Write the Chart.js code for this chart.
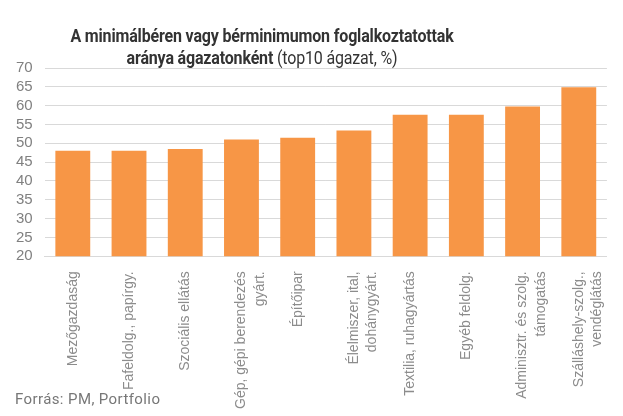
<!DOCTYPE html>
<html>
<head>
<meta charset="utf-8">
<script src="https://cdn.jsdelivr.net/npm/chart.js@4"></script>
<style>
  body { margin: 0; background: #fff; font-family: Roboto, "Noto Sans", sans-serif; }
  #wrap { position: relative; width: 623px; height: 416px; }
  #title {
    position: absolute; left: 0; top: 25px; width: 524px; text-align: center;
    color: #333; font-size: 18px; line-height: 22px; font-weight: bold;
    transform: scaleX(0.89); transform-origin: 262px 0; letter-spacing: -0.2px;
  }
  #title span { font-weight: normal; }
  #source { position: absolute; left: 15px; top: 390px; color: #777; font-size: 15px; letter-spacing: 0.4px; }
</style>
</head>
<body>
<div id="wrap">
  <canvas id="chart" width="623" height="416"></canvas>
  <div id="title">A minimálbéren vagy bérminimumon foglalkoztatottak<br>aránya ágazatonként <span>(top10 ágazat, %)</span></div>
  <div id="source">Forrás: PM, Portfolio</div>
</div>
<script>
// Data
const sectors = [
    'Mezőgazdaság',
    'Fafeldolg., papírgy.',
    'Szociális ellátás',
    ['Gép, gépi berendezés', 'gyárt.'],
    'Építőipar',
    ['Élelmiszer, ital,', 'dohánygyárt.'],
    'Textilia, ruhagyártás',
    'Egyéb feldolg.',
    ['Adminisztr. és szolg.', 'támogatás'],
    ['Szálláshely-szolg.,', 'vendéglátás']
];
const shares = [48.0, 48.0, 48.5, 51.0, 51.5, 53.4, 57.6, 57.6, 59.8, 64.9];
const yTicks = [20, 25, 30, 35, 40, 45, 50, 55, 60, 65, 70];

const ctx = document.getElementById('chart').getContext('2d');
new Chart(ctx, {
    type: 'bar',
    data: {
        labels: sectors,
        datasets: [{
            data: shares,
            backgroundColor: '#F79646',
            categoryPercentage: 1,
            barPercentage: 0.62
        }]
    },
    options: {
        responsive: false,
        animation: false,
        layout: { padding: { top: 68, left: 4, right: 16, bottom: 0 } },
        plugins: { legend: { display: false }, tooltip: { enabled: false } },
        scales: {
            x: {
                grid: { display: false },
                border: { color: '#d9d9d9' },
                ticks: {
                    color: '#8c8c8c', font: { family: 'Liberation Sans', size: 14, lineHeight: 1.3 },
                    minRotation: 90, maxRotation: 90, autoSkip: false, padding: 7
                }
            },
            y: {
                min: 20, max: 70,
                afterBuildTicks: axis => { axis.ticks = yTicks.map(v => ({ value: v })); },
                grid: { color: '#d9d9d9', drawTicks: false },
                border: { display: false },
                ticks: { color: '#808080', font: { family: 'Liberation Sans', size: 15 }, padding: 12, autoSkip: false }
            }
        }
    }
});
</script>
</body>
</html>
